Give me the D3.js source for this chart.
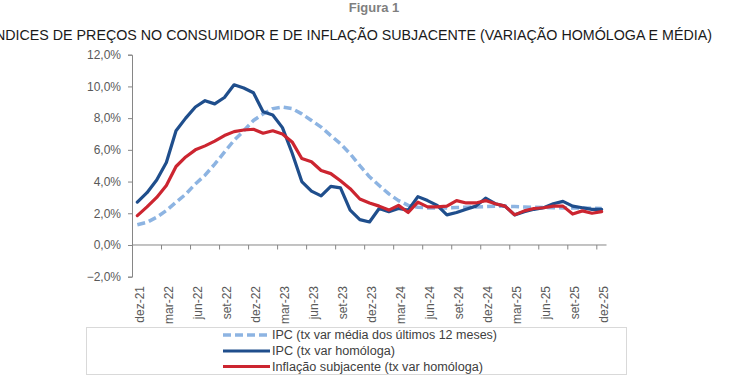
<!DOCTYPE html>
<html>
<head>
<meta charset="utf-8">
<script src="https://cdn.jsdelivr.net/npm/d3@7"></script>
<style>
  html, body { margin: 0; padding: 0; background: #ffffff; }
  svg { display: block; font-family: "Liberation Sans", Arial, sans-serif; }
</style>
</head>
<body>
<svg id="chart" width="750" height="375"></svg>
<script>
// ---- Data ----
const months = ["dez-21","jan-22","fev-22","mar-22","abr-22","mai-22","jun-22","jul-22","ago-22","set-22","out-22","nov-22",
  "dez-22","jan-23","fev-23","mar-23","abr-23","mai-23","jun-23","jul-23","ago-23","set-23","out-23","nov-23",
  "dez-23","jan-24","fev-24","mar-24","abr-24","mai-24","jun-24","jul-24","ago-24","set-24","out-24","nov-24",
  "dez-24","jan-25","fev-25","mar-25","abr-25","mai-25","jun-25","jul-25","ago-25","set-25","out-25","nov-25","dez-25"];

const ipcMedia12 = [1.28,1.43,1.75,2.17,2.7,3.2,3.85,4.4,5.1,5.85,6.6,7.2,
  7.85,8.27,8.6,8.7,8.6,8.27,7.85,7.43,6.9,6.38,5.75,5.0,
  4.3,3.75,3.22,2.8,2.5,2.38,2.34,2.34,2.34,2.36,2.38,2.4,
  2.42,2.44,2.44,2.42,2.4,2.38,2.36,2.35,2.34,2.34,2.33,2.32,2.3];

const ipcHomologa = [2.7,3.3,4.1,5.2,7.2,8.0,8.7,9.1,8.9,9.3,10.1,9.9,
  9.6,8.4,8.2,7.4,5.8,4.0,3.4,3.1,3.7,3.6,2.2,1.6,
  1.45,2.3,2.1,2.3,2.2,3.05,2.8,2.5,1.9,2.05,2.25,2.45,
  2.95,2.6,2.45,1.9,2.1,2.25,2.35,2.6,2.75,2.45,2.35,2.25,2.25];

const inflacaoSubjacente = [1.85,2.4,3.0,3.75,4.95,5.55,6.0,6.25,6.55,6.9,7.15,7.25,
  7.3,7.05,7.2,7.0,6.5,5.45,5.25,4.7,4.5,4.05,3.55,2.9,
  2.65,2.45,2.2,2.5,2.05,2.7,2.4,2.4,2.45,2.8,2.65,2.65,
  2.8,2.6,2.45,1.9,2.15,2.3,2.35,2.45,2.45,1.95,2.15,2.0,2.1];

const yTicks = [-2,0,2,4,6,8,10,12];
const xTickLabels = ["dez-21","mar-22","jun-22","set-22","dez-22","mar-23","jun-23","set-23","dez-23",
  "mar-24","jun-24","set-24","dez-24","mar-25","jun-25","set-25","dez-25"];

const seriesNames = ["IPC (tx var média dos últimos 12 meses)", "IPC (tx var homóloga)", "Inflação subjacente (tx var homóloga)"];
const seriesColors = ["#8DB4E2", "#1F4E8C", "#CC2530"];

// ---- Build ----
const svg = d3.select("#chart");

const x = d3.scaleBand().domain(months).range([132.5, 606.5]).paddingInner(0).paddingOuter(0);
const y = d3.scaleLinear().domain([-2, 12]).range([276.7, 54.7]);
const cx = m => x(m) + x.bandwidth() / 2;

// Headings
svg.append("text").attr("x", 374).attr("y", 12).attr("text-anchor", "middle")
  .attr("font-size", 13).attr("font-weight", "bold").attr("fill", "#7F7F7F").text("Figura 1");
svg.append("text").attr("x", 712).attr("y", 40).attr("text-anchor", "end")
  .attr("font-size", 15).attr("fill", "#1A1A1A")
  .attr("textLength", 721).attr("lengthAdjust", "spacingAndGlyphs")
  .text("ÍNDICES DE PREÇOS NO CONSUMIDOR E DE INFLAÇÃO SUBJACENTE (VARIAÇÃO HOMÓLOGA E MÉDIA)");

// Y axis
const yAxis = d3.axisLeft(y).tickValues(yTicks).tickSize(4).tickPadding(7)
  .tickFormat(d => d3.format(".1f")(d).replace(".", ",") + "%");
const gy = svg.append("g").attr("transform", "translate(132,0)").call(yAxis);
gy.select(".domain").attr("stroke", "#868686");
gy.selectAll(".tick line").attr("stroke", "#868686");
gy.selectAll(".tick text").attr("font-size", 12).attr("fill", "#595959").attr("font-family", "Liberation Sans, Arial, sans-serif");

// X axis at 0%
const y0 = y(0);
svg.append("line").attr("x1", 132).attr("x2", 606.5).attr("y1", y0).attr("y2", y0)
  .attr("stroke", "#868686").attr("stroke-width", 1);
const tickMonths = months.filter(m => xTickLabels.includes(m));
svg.append("g").selectAll("line").data(tickMonths).join("line")
  .attr("x1", m => x(m)).attr("x2", m => x(m))
  .attr("y1", y0).attr("y2", y0 + 4.5)
  .attr("stroke", "#868686");
svg.append("g").selectAll("text").data(tickMonths).join("text")
  .attr("transform", m => `translate(${cx(m) + 2},286) rotate(-90)`)
  .attr("text-anchor", "end").attr("dy", "0.35em")
  .attr("font-size", 12).attr("fill", "#595959")
  .text(m => m);

// Lines
const allSeries = [ipcMedia12, ipcHomologa, inflacaoSubjacente];
const line = d3.line().x((d, i) => cx(months[i])).y(d => y(d));
allSeries.forEach((vals, k) => {
  svg.append("path").datum(vals)
    .attr("d", line)
    .attr("fill", "none")
    .attr("stroke", seriesColors[k])
    .attr("stroke-width", k === 0 ? 3.5 : 3.2)
    .attr("stroke-linejoin", "round")
    .attr("stroke-linecap", k === 0 ? "butt" : "round")
    .attr("stroke-dasharray", k === 0 ? "8,4" : null);
});

// Legend
svg.append("rect").attr("x", 86.5).attr("y", 327.5).attr("width", 540).attr("height", 47)
  .attr("fill", "none").attr("stroke", "#D9D9D9").attr("stroke-width", 1);
const legendRowsY = [335, 351, 366.5];
const legendWidths = [225, 123, 211];
seriesNames.forEach((name, k) => {
  const ly = legendRowsY[k];
  svg.append("line").attr("x1", 223).attr("x2", 270).attr("y1", ly).attr("y2", ly)
    .attr("stroke", seriesColors[k]).attr("stroke-width", k === 0 ? 3.5 : 3.2)
    .attr("stroke-dasharray", k === 0 ? "8,4" : null);
  svg.append("text").attr("x", 272).attr("y", ly).attr("dy", "0.35em")
    .attr("font-size", 12).attr("fill", "#404040")
    .attr("textLength", legendWidths[k]).attr("lengthAdjust", "spacingAndGlyphs")
    .text(name);
});
</script>
</body>
</html>
